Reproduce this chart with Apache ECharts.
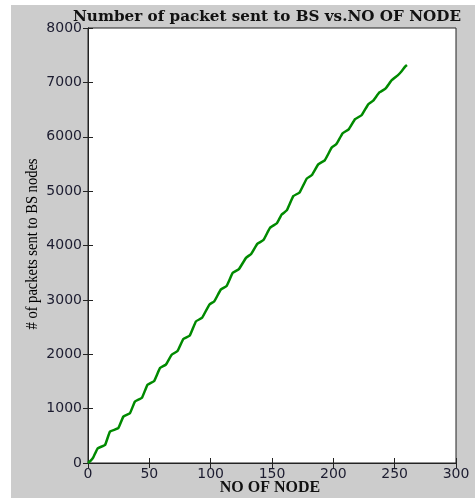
<!DOCTYPE html>
<html>
<head>
<meta charset="utf-8">
<script src="https://cdn.jsdelivr.net/npm/echarts@6/dist/echarts.min.js"></script>
<style>
  html, body { margin: 0; padding: 0; background: #ffffff; }
  #bg { position: absolute; left: 11px; top: 5px; width: 464px; height: 493px; background: #cccccc; }
  #chart { position: absolute; left: 0; top: 0; width: 475px; height: 498px; }
</style>
</head>
<body>
<div id="bg"></div>
<div id="chart"></div>
<script>
var titleText = 'Number of packet sent to BS vs.NO OF NODE';
var xName = 'NO OF NODE';
var yName = '# of packets sent to BS nodes';
var xTicks = [0, 50, 100, 150, 200, 250, 300];
var yTicks = [0, 1000, 2000, 3000, 4000, 5000, 6000, 7000, 8000];

var nodes = [0, 2, 4.3, 7.9, 13.9, 17.9, 24.7, 28.8, 34.2, 38.3, 44, 48.5, 54, 58.7, 63.5, 68.2, 73, 77.7, 83, 88,
  93, 98.9, 103, 108.2, 113, 118, 123, 128.8, 133, 138, 143, 148.4, 154, 157.9, 162, 167.4, 172.5, 178.3, 182.5, 187.7,
  193, 198.7, 202.5, 207.6, 212.5, 217.7, 223, 228.5, 232.5, 237.5, 242.5, 247.6, 252.5, 255.5, 258.5, 260];
var packets = [0, 40, 105, 271, 332, 577, 640, 853, 916, 1130, 1200, 1440, 1510, 1746, 1810, 1991, 2060, 2280, 2345, 2605,
  2670, 2912, 2975, 3189, 3255, 3497, 3565, 3773, 3845, 4030, 4100, 4326, 4410, 4571, 4645, 4909, 4975, 5230, 5295, 5493,
  5565, 5801, 5865, 6065, 6135, 6323, 6395, 6599, 6665, 6815, 6885, 7040, 7130, 7200, 7290, 7320];

var seriesData = nodes.map(function (x, i) { return [x, packets[i]]; });

var chart = echarts.init(document.getElementById('chart'), null, { renderer: 'canvas' });
var tickLabelStyle = { color: '#1c1c30', fontFamily: 'DejaVu Sans', fontSize: 14 };
chart.setOption({
  backgroundColor: 'transparent',
  animation: false,
  title: {
    text: titleText,
    left: 262,
    top: 5,
    textAlign: 'center',
    textStyle: { fontFamily: 'DejaVu Serif', fontWeight: 'bold', fontSize: 15.2, color: '#111' }
  },
  graphic: [{
    type: 'text',
    x: 270, y: 488,
    style: { text: xName, fontFamily: 'Liberation Serif', fontWeight: 'bold', fontSize: 16, fill: '#111',
      align: 'center', verticalAlign: 'middle' }
  }, {
    type: 'text',
    x: 33, y: 244, rotation: Math.PI / 2, scaleX: 0.88,
    style: { text: yName, fontFamily: 'Liberation Serif', fontSize: 16.5, fill: '#000',
      align: 'center', verticalAlign: 'middle' }
  }],
  grid: {
    left: 88, top: 28, width: 368, height: 435,
    outerBoundsMode: 'none', containLabel: false,
    show: true, backgroundColor: '#ffffff', borderColor: '#222', borderWidth: 1
  },
  xAxis: [{
    type: 'value', min: 0, max: 300, interval: 50,
    axisLine: { show: true, lineStyle: { color: '#222', width: 1 } },
    axisTick: { show: true, inside: true, length: 5, lineStyle: { color: '#222' } },
    axisLabel: Object.assign({ margin: 4, formatter: function (v) { return xTicks.indexOf(v) >= 0 ? String(v) : ''; } }, tickLabelStyle),
    splitLine: { show: false }
  }, {
    type: 'value', min: 0, max: 300, interval: 50, position: 'top',
    axisLine: { show: true, lineStyle: { color: '#222', width: 1 } },
    axisTick: { show: true, inside: true, length: 5, lineStyle: { color: '#222' } },
    axisLabel: { show: false }, splitLine: { show: false }
  }],
  yAxis: [{
    type: 'value', min: 0, max: 8000, interval: 1000,
    axisLine: { show: true, lineStyle: { color: '#222', width: 1 } },
    axisTick: { show: true, inside: true, length: 5, lineStyle: { color: '#222' } },
    axisLabel: Object.assign({ margin: 6, formatter: function (v) { return yTicks.indexOf(v) >= 0 ? String(v) : ''; } }, tickLabelStyle),
    splitLine: { show: false }
  }, {
    type: 'value', min: 0, max: 8000, interval: 1000, position: 'right',
    axisLine: { show: true, lineStyle: { color: '#222', width: 1 } },
    axisTick: { show: true, inside: true, length: 5, lineStyle: { color: '#222' } },
    axisLabel: { show: false }, splitLine: { show: false }
  }],
  series: [{
    type: 'line',
    data: seriesData,
    xAxisIndex: 0, yAxisIndex: 0,
    showSymbol: false,
    smooth: 0.1,
    lineStyle: { color: '#008a00', width: 2.5 },
    itemStyle: { color: '#008a00' }
  }]
});
</script>
</body>
</html>
